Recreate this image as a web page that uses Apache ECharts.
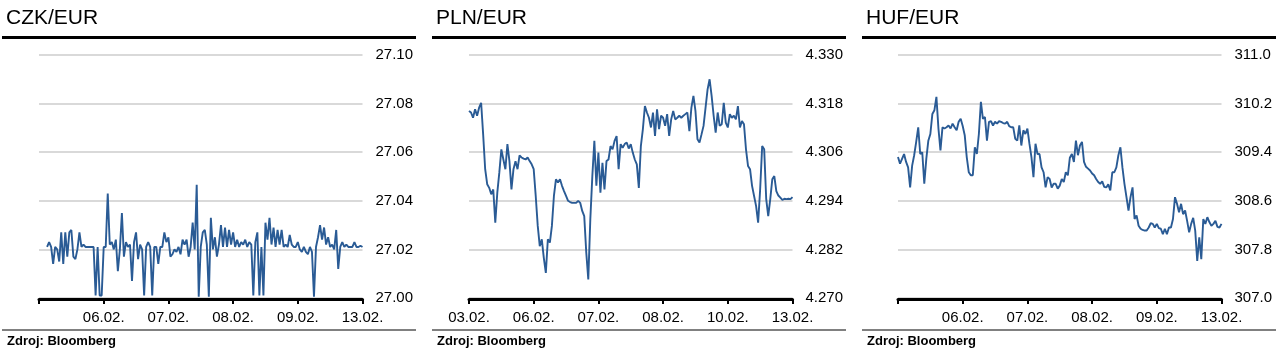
<!DOCTYPE html>
<html>
<head>
<meta charset="utf-8">
<script src="https://cdn.jsdelivr.net/npm/echarts@6/dist/echarts.min.js"></script>
<style>
html,body{margin:0;padding:0;background:#fff;}
#c{width:1287px;height:356px;}
</style>
</head>
<body>
<div id="c"></div>
<script>
// ---- data ----
const titles = ['CZK/EUR', 'PLN/EUR', 'HUF/EUR'];
const sourceText = 'Zdroj: Bloomberg';

const czkXLabels = ['', '06.02.', '07.02.', '08.02.', '09.02.', '13.02.'];
const plnXLabels = ['03.02.', '06.02.', '07.02.', '08.02.', '10.02.', '13.02.'];
const hufXLabels = ['', '06.02.', '07.02.', '08.02.', '09.02.', '13.02.'];

const czkYTicks = [27.00, 27.02, 27.04, 27.06, 27.08, 27.10];
const plnYTicks = [4.270, 4.282, 4.294, 4.306, 4.318, 4.330];
const hufYTicks = [307.0, 307.8, 308.6, 309.4, 310.2, 311.0];

const czkValues = [null, null, null, null,
27.021, 27.023, 27.021, 27.014, 27.021, 27.020, 27.015, 27.027, 27.014, 27.027,
27.017, 27.027, 27.028, 27.017, 27.016, 27.020, 27.027, 27.021, 27.022, 27.021,
27.021, 27.021, 27.021, 27.021, 27.001, 27.021, 27.001, 27.001, 27.021, 27.021,
27.043, 27.022, 27.023, 27.020, 27.024, 27.011, 27.020, 27.035, 27.017, 27.023,
27.021, 27.022, 27.007, 27.023, 27.027, 27.016, 27.022, 27.020, 27.001, 27.021,
27.023, 27.021, 27.001, 27.021, 27.021, 27.014, 27.021, 27.021, 27.027, 27.023,
27.025, 27.017, 27.018, 27.020, 27.019, 27.021, 27.018, 27.024, 27.022, 27.024,
27.017, 27.021, 27.031, 27.020, 27.0466, 27.0005, 27.021, 27.027, 27.028, 27.022,
27.0005, 27.033, 27.020, 27.025, 27.017, 27.022, 27.030, 27.021, 27.029, 27.021,
27.028, 27.022, 27.027, 27.021, 27.024, 27.021, 27.023, 27.022, 27.024, 27.021,
27.023, 27.022, 27.001, 27.023, 27.027, 27.001, 27.021, 27.001, 27.031, 27.024,
27.033, 27.022, 27.029, 27.021, 27.028, 27.022, 27.028, 27.021, 27.022, 27.021,
27.026, 27.022, 27.021, 27.021, 27.023, 27.020, 27.019, 27.021, 27.019, 27.018,
27.021, 27.019, 27.0005, 27.021, 27.025, 27.030, 27.024, 27.029, 27.022, 27.025,
27.021, 27.022, 27.020, 27.028, 27.012, 27.021, 27.023, 27.021, 27.022, 27.021,
27.021, 27.021, 27.023, 27.021, 27.021, 27.0215, 27.021];

const plnValues = [
4.3162, 4.3158, 4.3145, 4.3166, 4.3150, 4.3170, 4.3182, 4.3104, 4.3018, 4.2981,
4.2972, 4.2956, 4.2968, 4.2886, 4.2960, 4.3010, 4.3067, 4.3042, 4.3018, 4.3080,
4.3038, 4.2968, 4.3018, 4.3038, 4.3018, 4.3052, 4.3047, 4.3044, 4.3042, 4.3047,
4.3038, 4.3030, 4.3018, 4.2952, 4.2878, 4.2828, 4.2845, 4.2799, 4.2762, 4.2845,
4.2837, 4.2878, 4.2952, 4.2993, 4.2985, 4.2993, 4.2977, 4.2964, 4.2952, 4.2940,
4.2937, 4.2935, 4.2935, 4.2935, 4.2940, 4.2935, 4.2915, 4.2902, 4.2812, 4.2746,
4.2894, 4.3001, 4.3088, 4.2977, 4.3059, 4.2960, 4.3034, 4.2968, 4.3038, 4.3042,
4.3075, 4.3067, 4.3088, 4.3100, 4.3018, 4.3080, 4.3071, 4.3080, 4.3084, 4.3069,
4.3080, 4.3059, 4.3042, 4.3030, 4.2972, 4.3075, 4.3117, 4.3174, 4.3158, 4.3145,
4.3121, 4.3158, 4.3100, 4.3166, 4.3117, 4.3150, 4.3145, 4.3125, 4.3154, 4.3100,
4.3141, 4.3162, 4.3141, 4.3145, 4.3150, 4.3145, 4.3150, 4.3154, 4.3158, 4.3112,
4.3170, 4.3199, 4.3162, 4.3092, 4.3084, 4.3104, 4.3125, 4.3170, 4.3215, 4.3240,
4.3199, 4.3150, 4.3108, 4.3158, 4.3125, 4.3129, 4.3182, 4.3133, 4.3121, 4.3154,
4.3145, 4.3150, 4.3141, 4.3174, 4.3121, 4.3137, 4.3129, 4.3067, 4.3026, 4.3018,
4.2977, 4.2952, 4.2927, 4.2886, 4.2968, 4.3075, 4.3067, 4.2944, 4.2902, 4.2944,
4.2993, 4.3001, 4.2964, 4.2953, 4.2948, 4.2942, 4.2945, 4.2944, 4.2945, 4.2944,
4.2949];

const hufValues = [
309.32, 309.21, 309.29, 309.37, 309.24, 309.15, 308.82, 309.18, 309.35, 309.57,
309.81, 309.37, 309.40, 308.88, 309.29, 309.59, 309.70, 310.03, 310.09, 310.31,
309.79, 309.43, 309.81, 309.79, 309.81, 309.84, 309.79, 309.87, 309.81, 309.76,
309.90, 309.95, 309.83, 309.68, 309.32, 309.07, 309.02, 309.02, 309.48, 309.37,
309.70, 310.23, 309.95, 309.98, 309.59, 309.90, 309.91, 309.84, 309.90, 309.87,
309.91, 309.90, 309.88, 309.87, 309.90, 309.83, 309.81, 309.81, 309.62, 309.59,
309.84, 309.51, 309.76, 309.70, 309.79, 309.54, 309.32, 308.99, 309.54, 309.37,
309.37, 309.15, 309.07, 308.82, 308.99, 308.96, 308.82, 308.88, 308.88, 308.80,
308.85, 308.96, 308.91, 309.07, 309.02, 309.31, 309.37, 309.24, 309.59, 309.35,
309.51, 309.57, 309.24, 309.16, 309.13, 309.10, 309.05, 309.02, 308.96, 308.91,
308.88, 308.92, 308.83, 308.82, 308.87, 308.77, 309.07, 309.07, 309.15, 309.35,
309.48, 309.15, 308.88, 308.66, 308.44, 308.66, 308.82, 308.30, 308.36, 308.19,
308.14, 308.12, 308.11, 308.11, 308.16, 308.23, 308.22, 308.16, 308.22, 308.15,
308.14, 308.05, 308.14, 308.05, 308.16, 308.16, 308.30, 308.66, 308.55, 308.41,
308.55, 308.38, 308.44, 308.27, 308.08, 308.22, 308.32, 308.11, 307.61, 308.00,
307.64, 308.30, 308.22, 308.33, 308.25, 308.19, 308.22, 308.27, 308.17, 308.16,
308.22];

// ---- chart ----
const LINE = '#2a5b95';
const FONT = '"Liberation Sans", Arial, sans-serif';
const panels = [
  {left: 39, x0: 0, values: czkValues, xl: czkXLabels, yt: czkYTicks, dec: 2},
  {left: 469, x0: 430, values: plnValues, xl: plnXLabels, yt: plnYTicks, dec: 3},
  {left: 898, x0: 860, values: hufValues, xl: hufXLabels, yt: hufYTicks, dec: 1}
];

const grids = [], xAxes = [], yAxes = [], series = [], graphics = [];
panels.forEach((p, k) => {
  const n = p.values.length;
  const step = (n - 1) / (p.xl.length - 1);
  const cats = p.values.map((_, i) => String(i));
  grids.push({left: p.left, top: 55, width: 323.5, height: 243, containLabel: false});
  xAxes.push({
    type: 'category', gridIndex: k, data: cats, boundaryGap: false, offset: 1,
    axisLine: {show: true, lineStyle: {color: '#000', width: 3}},
    axisTick: {show: true, interval: step - 1, length: 5, lineStyle: {color: '#000', width: 2}},
    axisLabel: {interval: step - 1, margin: 11, color: '#000', fontSize: 15, fontFamily: FONT,
      formatter: (v, i) => p.xl[Math.round(i / step)] || ''},
    splitLine: {show: false}
  });
  yAxes.push({
    type: 'value', gridIndex: k, position: 'right', min: p.yt[0], max: p.yt[p.yt.length - 1],
    axisLine: {show: false},
    axisTick: {show: false, customValues: p.yt},
    axisLabel: {customValues: p.yt, margin: 13, color: '#000', fontSize: 15, fontFamily: FONT,
      formatter: v => Number(v).toFixed(p.dec)},
    splitLine: {show: true, lineStyle: {color: '#d9d9d9', width: 2}}
  });
  series.push({
    type: 'line', xAxisIndex: k, yAxisIndex: k, data: p.values, showSymbol: false, symbol: 'none',
    sampling: null, connectNulls: false, animation: false,
    lineStyle: {color: LINE, width: 1.9}, z: 5
  });
  graphics.push(
    {type: 'text', left: p.x0 + 6, top: 8, style: {text: titles[k], fill: '#000', font: '21px ' + FONT}},
    {type: 'rect', shape: {x: p.x0 + 2, y: 36, width: 414, height: 3}, style: {fill: '#000'}},
    {type: 'rect', shape: {x: p.x0 + 2, y: 329, width: 414, height: 2}, style: {fill: '#808080'}},
    {type: 'text', left: p.x0 + 7, top: 335, style: {text: sourceText, fill: '#000', font: 'bold 13px ' + FONT}}
  );
});

const chart = echarts.init(document.getElementById('c'), null, {renderer: 'canvas'});
chart.setOption({
  backgroundColor: '#fff',
  animation: false,
  grid: grids, xAxis: xAxes, yAxis: yAxes, series: series,
  graphic: graphics
});
</script>
</body>
</html>
